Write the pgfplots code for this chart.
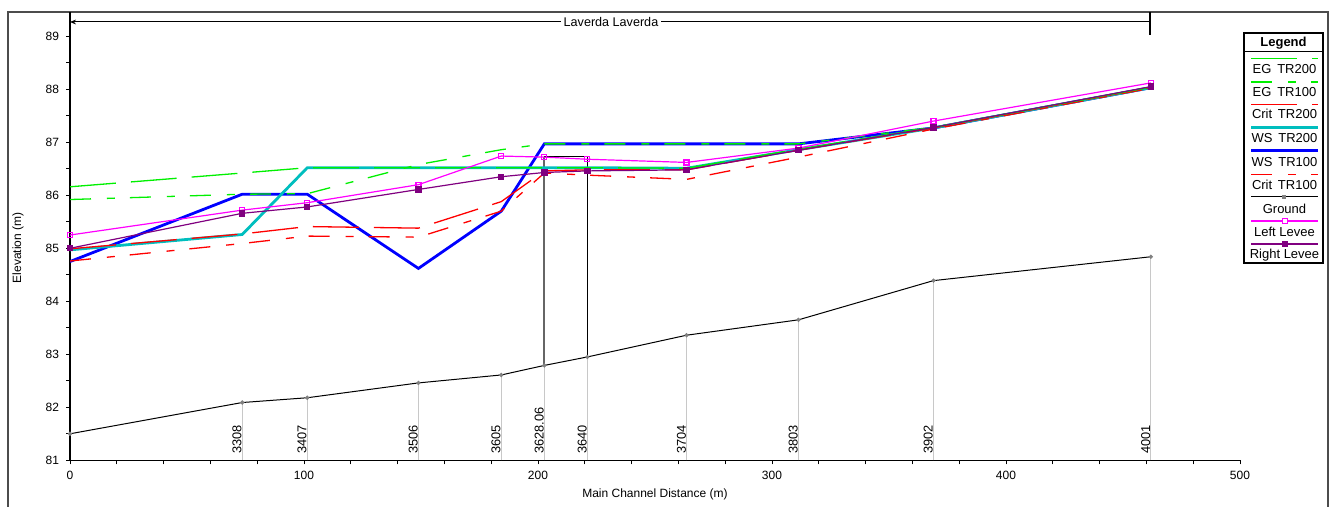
\documentclass[border=0pt]{standalone}
\usepackage{fontspec}
\setmainfont{Liberation Sans}
\usepackage{pgfplots}
\pgfplotsset{compat=1.18}
\usetikzlibrary{arrows.meta}
\definecolor{egc}{RGB}{0,240,0}
\definecolor{critc}{RGB}{255,0,0}
\definecolor{wstwo}{RGB}{0,190,190}
\definecolor{wsone}{RGB}{0,0,255}
\definecolor{llev}{RGB}{255,0,255}
\definecolor{rlev}{RGB}{128,0,128}
\definecolor{secg}{RGB}{200,200,200}
\tikzset{longdash/.style={dash pattern=on 23pt off 7.5pt},
         shortdash/.style={dash pattern=on 10.5pt off 8pt on 4pt off 7.5pt}}
\newcommand{\secfont}{\fontsize{6.4}{7}\selectfont}
\newcommand{\legfont}{\fontsize{6.5}{8}\selectfont}
\begin{document}
\begin{tikzpicture}
\begin{scope}[x=0.5pt,y=-0.5pt]
\useasboundingbox (0,0) rectangle (1335,502);
\draw[black!70, line width=0.6pt] (8,510) -- (8,12) -- (1328,12) -- (1328,510);
\end{scope}
\begin{axis}[
  at={(35pt,-230.15pt)}, anchor=south west,
  scale only axis, width=585pt, height=224.15pt,
  xmin=0, xmax=500, ymin=81, ymax=89.458,
  axis x line*=bottom, axis y line*=left,
  xtick={0,100,...,500}, minor x tick num=4,
  ytick={81,82,...,89}, minor y tick num=1,
  tick align=outside, major tick length=2pt, minor tick length=2pt,
  tick style={black, line width=0.5pt},
  axis line style={black, line width=0.6pt},
  ticklabel style={font=\fontsize{6}{7}\selectfont},
  /pgf/number format/assume math mode=true,
  xlabel={Main Channel Distance (m)}, ylabel={Elevation (m)},
  xlabel style={at={(axis description cs:0.5,-0.075)}, anchor=center, font=\fontsize{6}{7}\selectfont},
  ylabel style={at={(axis description cs:-0.0444,0.4736)}, anchor=center, font=\fontsize{6}{7}\selectfont},
  clip=true,
]
% section lines
\addplot[secg, line width=0.6pt, forget plot] coordinates {(73.6,81) (73.6,82.09)};
\addplot[secg, line width=0.6pt, forget plot] coordinates {(101.4,81) (101.4,82.18)};
\addplot[secg, line width=0.6pt, forget plot] coordinates {(148.9,81) (148.9,82.46)};
\addplot[secg, line width=0.6pt, forget plot] coordinates {(184.3,81) (184.3,82.61)};
\addplot[secg, line width=0.6pt, forget plot] coordinates {(202.7,81) (202.7,82.79)};
\addplot[secg, line width=0.6pt, forget plot] coordinates {(221.1,81) (221.1,82.95)};
\addplot[secg, line width=0.6pt, forget plot] coordinates {(263.5,81) (263.5,83.36)};
\addplot[secg, line width=0.6pt, forget plot] coordinates {(311.3,81) (311.3,83.65)};
\addplot[secg, line width=0.6pt, forget plot] coordinates {(369.0,81) (369.0,84.39)};
\addplot[secg, line width=0.6pt, forget plot] coordinates {(461.9,81) (461.9,84.84)};
% bridge
\addplot[black!60, line width=0.9pt, forget plot] coordinates {(202.7,82.79) (202.7,86.73)};
\addplot[black, line width=0.5pt, forget plot] coordinates {(202.7,86.73) (221.1,86.73) (221.1,82.95)};
% ground
\addplot[black, line width=0.5pt, mark=*, mark size=0.8pt, mark options={fill=gray, draw=gray}] coordinates {
(0,81.50) (73.6,82.09) (101.4,82.18) (148.9,82.46) (184.3,82.61) (202.7,82.79) (221.1,82.95) (263.5,83.36) (311.3,83.65) (369.0,84.39) (461.9,84.84)};
% WS TR100
\addplot[wsone, line width=1.4pt] coordinates {
(0,84.75) (73.6,86.02) (101.4,86.02) (148.9,84.62) (184.3,85.70) (202.7,86.97) (221.1,86.97) (263.5,86.97) (311.3,86.97) (369.0,87.27) (461.9,88.03)};
% WS TR200
\addplot[wstwo, line width=1.4pt] coordinates {
(0,84.97) (73.6,85.26) (101.4,86.52) (148.9,86.52) (184.3,86.52) (202.7,86.52) (221.1,86.52) (263.5,86.51) (311.3,86.86) (369.0,87.27) (461.9,88.03)};
% Crit TR100
\addplot[critc, line width=0.65pt, shortdash] coordinates {
(0,84.76) (73.6,85.09) (101.4,85.23) (148.9,85.21) (184.3,85.70) (202.7,86.42) (221.1,86.38) (263.5,86.30) (311.3,86.72) (369.0,87.25) (461.9,88.02)};
% Crit TR200
\addplot[critc, line width=0.65pt, longdash] coordinates {
(0,84.99) (73.6,85.27) (101.4,85.41) (148.9,85.38) (184.3,85.88) (202.7,86.46) (221.1,86.48) (263.5,86.48) (311.3,86.85) (369.0,87.27) (461.9,88.03)};
% EG TR100
\addplot[egc, line width=0.65pt, shortdash] coordinates {
(0,85.92) (73.6,86.02) (101.4,86.03) (148.9,86.58) (184.3,86.86) (202.7,86.97) (221.1,86.97) (263.5,86.97) (311.3,86.97) (369.0,87.28) (461.9,88.04)};
% EG TR200
\addplot[egc, line width=0.65pt, longdash] coordinates {
(0,86.16) (73.6,86.42) (101.4,86.52) (148.9,86.52) (184.3,86.52) (202.7,86.52) (221.1,86.52) (263.5,86.51) (311.3,86.87) (369.0,87.28) (461.9,88.04)};
% Left Levee
\addplot[llev, line width=0.6pt, mark=square, mark size=1.25pt, mark options={fill=white, solid}] coordinates {
(0,85.25) (73.6,85.72) (101.4,85.86) (148.9,86.20) (184.3,86.74) (202.7,86.72) (221.1,86.68) (263.5,86.62) (311.3,86.89) (369.0,87.40) (461.9,88.12)};
% Right Levee
\addplot[rlev, line width=0.6pt, mark=square*, mark size=1.3pt, mark options={solid}] coordinates {
(0,85.00) (73.6,85.66) (101.4,85.78) (148.9,86.11) (184.3,86.35) (202.7,86.43) (221.1,86.46) (263.5,86.48) (311.3,86.85) (369.0,87.28) (461.9,88.05)};
% section labels
\node[rotate=90, anchor=base west, inner sep=0pt, font=\secfont] at ([xshift=-0.4pt,yshift=3.2pt]axis cs:73.6,81) {3308};
\node[rotate=90, anchor=base west, inner sep=0pt, font=\secfont] at ([xshift=-0.4pt,yshift=3.2pt]axis cs:101.4,81) {3407};
\node[rotate=90, anchor=base west, inner sep=0pt, font=\secfont] at ([xshift=-0.4pt,yshift=3.2pt]axis cs:148.9,81) {3506};
\node[rotate=90, anchor=base west, inner sep=0pt, font=\secfont] at ([xshift=-0.4pt,yshift=3.2pt]axis cs:184.3,81) {3605};
\node[rotate=90, anchor=base west, inner sep=0pt, font=\secfont] at ([xshift=-0.4pt,yshift=3.2pt]axis cs:202.7,81) {3628.06};
\node[rotate=90, anchor=base west, inner sep=0pt, font=\secfont] at ([xshift=-0.4pt,yshift=3.2pt]axis cs:221.1,81) {3640};
\node[rotate=90, anchor=base west, inner sep=0pt, font=\secfont] at ([xshift=-0.4pt,yshift=3.2pt]axis cs:263.5,81) {3704};
\node[rotate=90, anchor=base west, inner sep=0pt, font=\secfont] at ([xshift=-0.4pt,yshift=3.2pt]axis cs:311.3,81) {3803};
\node[rotate=90, anchor=base west, inner sep=0pt, font=\secfont] at ([xshift=-0.4pt,yshift=3.2pt]axis cs:369.0,81) {3902};
\node[rotate=90, anchor=base west, inner sep=0pt, font=\secfont] at ([xshift=-0.4pt,yshift=3.2pt]axis cs:461.9,81) {4001};
\end{axis}
\begin{scope}[x=0.5pt,y=-0.5pt]
% reach arrow
\draw[black, line width=0.5pt, -{Stealth[length=3pt,width=2.4pt]}] (1150,22) -- (70,22);
\draw[black, line width=0.6pt] (1150,12) -- (1150,35);
\node[fill=white, inner sep=1.5pt, font=\fontsize{6.3}{7}\selectfont] at (611,22) {Laverda Laverda};
% legend
\draw[black, line width=0.6pt, fill=white] (1244,33) rectangle (1323,263);
\draw[black, line width=0.5pt] (1244,51.7) -- (1323,51.7);
\node[font=\legfont\bfseries] at (1283.5,43) {Legend};
\draw[egc, line width=0.9pt, longdash] (1251,58.5) -- (1318,58.5);
\node[font=\legfont] at (1284.5,69) {EG\ \,TR200};
\draw[egc, line width=0.9pt, shortdash] (1251,81.7) -- (1318,81.7);
\node[font=\legfont] at (1284.5,91.7) {EG\ \,TR100};
\draw[critc, line width=0.65pt, longdash] (1251,104.3) -- (1318,104.3);
\node[font=\legfont] at (1284.5,114.3) {Crit\ \,TR200};
\draw[wstwo, line width=1.4pt] (1251,127.3) -- (1318,127.3);
\node[font=\legfont] at (1284.5,138.3) {WS\ \,TR200};
\draw[wsone, line width=1.4pt] (1251,150.7) -- (1318,150.7);
\node[font=\legfont] at (1284.5,161.7) {WS\ \,TR100};
\draw[critc, line width=0.65pt, shortdash] (1251,174.3) -- (1318,174.3);
\node[font=\legfont] at (1284.5,185) {Crit\ \,TR100};
\draw[black, line width=0.5pt] (1251,196.7) -- (1318,196.7);
\draw[gray, fill=gray] (1282.5,195.2) rectangle (1285.5,198.2);
\node[font=\legfont] at (1284.5,209) {Ground};
\draw[llev, line width=0.6pt] (1251,221) -- (1318,221);
\draw[llev, line width=0.5pt, fill=white] (1282,218.5) rectangle (1287,223.5);
\node[font=\legfont] at (1284.5,231.7) {Left Levee};
\draw[rlev, line width=0.6pt] (1251,244) -- (1318,244);
\draw[rlev, fill=rlev] (1282,241.5) rectangle (1287,246.5);
\node[font=\legfont] at (1284.5,255) {Right Levee};
\end{scope}
\end{tikzpicture}
\end{document}
